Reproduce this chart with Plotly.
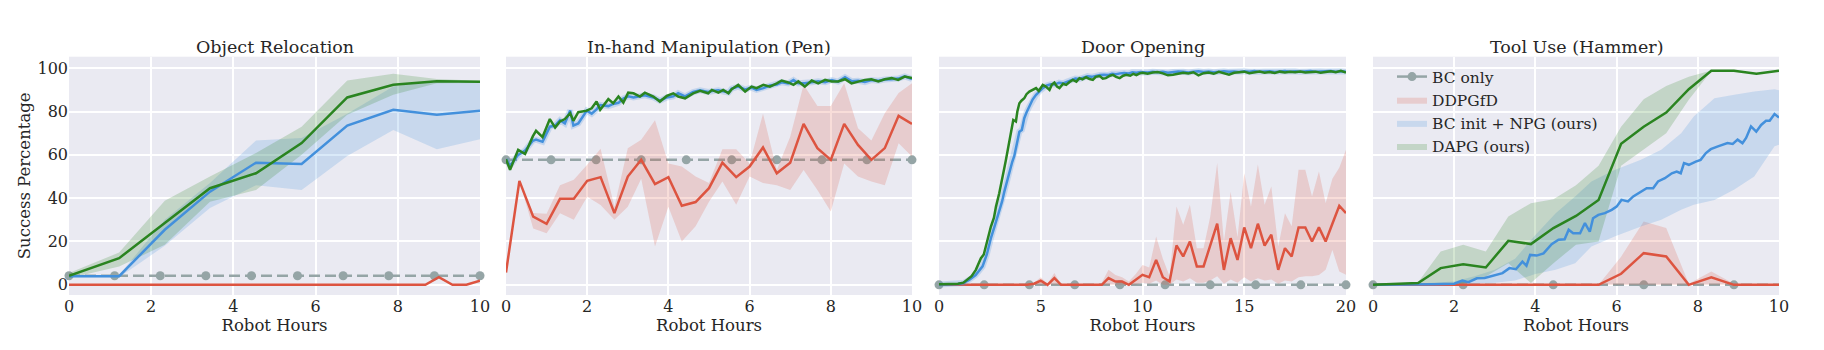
import plotly.graph_objects as go

# ---------------- data ----------------
titles = ["Object Relocation", "In-hand Manipulation (Pen)", "Door Opening", "Tool Use (Hammer)"]
legend_names = ["BC only", "DDPGfD", "BC init + NPG (ours)", "DAPG (ours)"]
y_ticks = [0, 20, 40, 60, 80, 100]

# Object Relocation
reloc_x = [0, 1.22, 2.33, 3.43, 4.55, 5.66, 6.77, 7.89, 8.95, 10]
reloc_dapg = [4.2, 12.3, 28.5, 44.6, 51.5, 65.4, 86.5, 92.3, 94.0, 93.7]
reloc_dapg_hi = [5.5, 14.9, 38.8, 50.0, 60.8, 73.0, 94.3, 97.4, 95.0, 94.2]
reloc_dapg_lo = [3.0, 8.4, 18.5, 38.4, 43.8, 60.0, 78.5, 87.7, 93.0, 93.2]
reloc_npg = [4.0, 4.0, 25.4, 43.0, 56.4, 55.8, 73.5, 80.8, 78.5, 80.4]
reloc_npg_hi = [4.5, 4.5, 30.0, 47.0, 66.6, 67.8, 79.0, 91.5, 94.6, 94.0]
reloc_npg_lo = [3.5, 3.5, 18.0, 35.5, 46.0, 43.8, 59.5, 71.5, 62.6, 67.2]
reloc_ddpg_x = [0, 1, 2, 3, 4, 5, 6, 7, 8, 8.67, 9.0, 9.33, 9.67, 10]
reloc_ddpg = [0, 0, 0, 0, 0, 0, 0, 0, 0, 0, 3.5, 0, 0, 1.9]
reloc_bc_x = [0, 1.11, 2.22, 3.33, 4.44, 5.56, 6.67, 7.78, 8.89, 10]
reloc_bc = [4.2, 4.2, 4.2, 4.2, 4.2, 4.2, 4.2, 4.2, 4.2, 4.2]

# Pen
pen_ddpg_x = [0, 0.33, 0.67, 1.0, 1.33, 1.67, 2.0, 2.33, 2.67, 3.0, 3.33, 3.67, 4.0, 4.33, 4.67,
              5.0, 5.33, 5.67, 6.0, 6.33, 6.67, 7.0, 7.33, 7.67, 8.0, 8.33, 8.67, 9.0, 9.33, 9.67, 10.0]
pen_ddpg = [5.7, 48.0, 31.5, 28.2, 39.7, 39.7, 48.0, 49.7, 33.1, 50.0, 57.7, 46.5, 49.7, 36.5, 38.2,
            44.6, 56.4, 49.7, 54.6, 63.4, 51.5, 56.4, 74.3, 63.1, 57.7, 74.3, 64.6, 57.7, 63.1, 78.0, 74.3]
pen_ddpg_hi = [5.7, 48.0, 33.1, 32.8, 46.0, 48.5, 55.4, 62.8, 36.0, 63.0, 67.0, 76.0, 56.0, 54.6, 50.0,
               47.0, 62.6, 62.6, 56.0, 79.0, 53.0, 68.4, 92.3, 82.6, 82.6, 93.0, 72.3, 66.6, 79.2, 88.5, 93.0]
pen_ddpg_lo = [5.7, 48.0, 26.0, 23.8, 33.0, 30.0, 40.7, 36.9, 30.0, 36.0, 49.0, 17.7, 36.0, 20.0, 27.0,
               38.4, 47.7, 37.0, 50.0, 47.0, 46.0, 43.8, 53.0, 43.8, 33.8, 56.0, 50.0, 47.7, 46.0, 65.4, 59.2]
pen_x = [0, 0.1, 0.3, 0.47, 0.66, 0.74, 0.9, 1.08, 1.21, 1.33, 1.45, 1.58, 1.66, 1.78, 1.99,
         2.11, 2.23, 2.32, 2.52, 2.64, 2.77, 2.89, 3.01, 3.14, 3.30, 3.42, 3.63, 3.79, 3.96, 4.12,
         4.24, 4.41, 4.61, 4.78, 4.98, 5.07, 5.23, 5.35, 5.48, 5.56, 5.72, 5.89, 6.05, 6.17, 6.34,
         6.50, 6.67, 6.79, 6.95, 7.08, 7.20, 7.36, 7.53, 7.69, 7.86, 8.02, 8.18, 8.35, 8.51, 8.67,
         8.84, 9.0, 9.17, 9.33, 9.50, 9.66, 9.82, 10.0]
pen_dapg = [58.0, 53.1, 62.3, 60.4, 68.5, 71.1, 68.2, 76.5, 72.6, 75.4, 76.5, 79.2, 75.7, 79.7, 80.4,
            81.5, 84.6, 80.8, 85.7, 83.8, 86.9, 84.1, 88.7, 88.4, 86.9, 88.7, 86.9, 84.6, 87.2, 88.4,
            86.9, 86.1, 88.4, 89.6, 88.4, 90.0, 88.7, 90.0, 88.4, 90.3, 92.3, 89.2, 91.5, 90.8, 92.3,
            91.5, 93.0, 94.3, 93.4, 92.3, 93.9, 91.5, 94.3, 93.0, 94.6, 93.9, 93.9, 94.9, 93.0, 93.9,
            94.6, 94.9, 93.9, 94.9, 95.4, 94.6, 96.1, 95.4]
pen_npg = [58.0, 55.0, 60.0, 62.0, 66.5, 67.0, 66.0, 73.0, 73.5, 76.0, 74.5, 80.5, 73.5, 74.5, 80.4,
           79.0, 81.0, 83.0, 82.5, 83.5, 84.0, 86.0, 87.0, 86.5, 87.0, 87.5, 86.5, 85.0, 86.5, 87.0,
           88.5, 87.0, 89.0, 89.8, 89.0, 89.5, 89.8, 89.2, 88.8, 90.6, 91.5, 90.2, 91.0, 90.0, 90.8,
           92.0, 92.5, 93.5, 93.0, 94.5, 93.0, 93.0, 93.5, 94.0, 93.5, 94.5, 93.8, 95.8, 94.0, 94.2,
           93.6, 94.5, 94.2, 94.8, 94.9, 95.2, 96.2, 95.0]
pen_bc_x = [0, 1.11, 2.22, 3.33, 4.44, 5.56, 6.67, 7.78, 8.89, 10]
pen_bc = [57.7, 57.7, 57.7, 57.7, 57.7, 57.7, 57.7, 57.7, 57.7, 57.7]

# Door
door_dapg_x = [0, 0.5, 0.93, 1.2, 1.4, 1.6, 1.81, 2.06, 2.2, 2.3, 2.45, 2.55, 2.7, 2.8, 2.96,
               3.05, 3.13, 3.2, 3.29, 3.38, 3.46, 3.55, 3.65, 3.78, 3.85, 3.95, 4.05, 4.19, 4.3, 4.44,
               4.6, 4.77, 4.9, 5.1, 5.25, 5.43, 5.55, 5.67, 5.8, 5.92, 6.1, 6.25, 6.4, 6.57, 6.75,
               6.9, 7.05, 7.23, 7.4, 7.56, 7.7, 7.9, 8.05, 8.2, 8.4, 8.55, 8.7, 8.88, 9.05, 9.2,
               9.4, 9.55, 9.7, 9.88,
               10.0, 10.25, 10.5, 10.75, 11.0, 11.25, 11.5, 11.75, 12.0, 12.25, 12.5, 12.75, 13.0,
               13.25, 13.5, 13.75, 14.0, 14.25, 14.5, 14.75, 15.0, 15.25, 15.5, 15.75, 16.0, 16.25,
               16.5, 16.75, 17.0, 17.25, 17.5, 17.75, 18.0, 18.25, 18.5, 18.75, 19.0, 19.25, 19.5,
               19.75, 20.0]
door_dapg = [0.3, 0.3, 0.5, 1.0, 2.3, 4.0, 6.9, 12.3, 14.0, 17.7, 22.0, 26.9, 31.0, 36.1, 42.3,
             46.0, 50.0, 53.5, 57.7, 62.0, 65.4, 71.0, 76.1, 75.4, 80.0, 83.8, 85.0, 86.1, 88.0, 89.2,
             90.0, 90.8, 89.5, 92.3, 91.5, 90.0, 92.5, 93.4, 91.5, 90.8, 92.8, 92.3, 93.5, 94.6, 93.8,
             95.4, 94.8, 95.8, 95.0, 94.6, 96.0, 96.4, 95.2, 95.4, 96.5, 96.9, 96.0, 95.4, 96.5, 96.9,
             96.5, 97.4, 96.8, 97.7,
             97.9, 97.4, 98.0, 98.2, 97.6, 96.7, 97.0, 97.5, 97.9, 97.6, 98.1, 96.7, 97.7,
             98.0, 97.4, 98.3, 97.8, 97.0, 97.9, 98.1, 98.4, 97.7, 98.0, 98.5, 97.9, 98.2,
             97.8, 98.4, 98.0, 98.3, 98.1, 98.5, 98.0, 98.2, 98.4, 97.9, 98.3, 98.6, 98.1,
             98.8, 98.0]
door_npg_x = [0, 0.5, 0.93, 1.2, 1.48, 1.8, 2.14, 2.35, 2.55, 2.75, 2.96, 3.1, 3.21, 3.35, 3.46,
              3.6, 3.7, 3.82, 3.95, 4.07, 4.19, 4.3, 4.44, 4.6, 4.77, 4.95, 5.1, 5.3, 5.5, 5.7,
              5.9, 6.1, 6.3, 6.5, 6.7, 6.9, 7.1, 7.3, 7.5, 7.7, 7.9, 8.1, 8.3, 8.5, 8.7,
              8.9, 9.1, 9.3, 9.5, 9.7, 9.9,
              10.25, 10.5, 10.75, 11.0, 11.25, 11.5, 11.75, 12.0, 12.25, 12.5, 12.75, 13.0,
              13.25, 13.5, 13.75, 14.0, 14.25, 14.5, 14.75, 15.0, 15.25, 15.5, 15.75, 16.0, 16.25,
              16.5, 16.75, 17.0, 17.25, 17.5, 17.75, 18.0, 18.25, 18.5, 18.75, 19.0, 19.25, 19.5,
              19.75, 20.0]
door_npg = [0.2, 0.3, 0.4, 0.8, 2.3, 4.5, 8.5, 14.0, 21.5, 27.5, 33.8, 38.5, 43.0, 48.0, 52.3,
            56.8, 59.5, 65.5, 70.7, 71.5, 76.9, 79.5, 82.3, 85.5, 87.7, 89.5, 90.8, 92.0, 92.6, 92.5,
            93.3, 93.0, 93.8, 94.5, 95.2, 95.0, 95.8, 96.3, 96.0, 96.6, 96.9, 97.0, 96.8, 97.4, 97.2,
            97.6, 97.8, 97.5, 98.1, 97.9, 98.2,
            98.0, 98.3, 98.1, 98.4, 97.9, 98.2, 98.5, 98.3, 98.0, 98.4, 98.6, 98.2,
            98.5, 98.1, 98.4, 98.6, 98.3, 98.5, 98.2, 98.6, 98.4, 98.7, 98.3, 98.5, 98.6,
            98.2, 98.5, 98.7, 98.4, 98.6, 98.3, 98.5, 98.7, 98.4, 98.6, 98.5, 98.7, 98.4,
            98.6, 98.3]
door_ddpg_x = [0, 0.33, 0.67, 1.0, 1.33, 1.67, 2.0, 2.33, 2.67, 3.0, 3.33, 3.67, 4.0, 4.33, 4.67,
               5.0, 5.33, 5.67, 6.0, 6.33, 6.67, 7.0, 7.33, 7.67, 8.0, 8.33, 8.67, 9.0, 9.33, 9.67,
               10.0, 10.33, 10.67, 11.0, 11.33, 11.67, 12.0, 12.33, 12.67, 13.0, 13.33, 13.67, 14.0,
               14.33, 14.67, 15.0, 15.33, 15.67, 16.0, 16.33, 16.67, 17.0, 17.33, 17.67, 18.0, 18.33,
               18.67, 19.0, 19.33, 19.67, 20.0]
door_ddpg = [0, 0, 0, 0, 0, 0, 0, 0, 0, 0, 0, 0, 0, 0, 0.5,
             1.9, 0, 3.1, 0, 0, 0, 0, 0, 0, 0, 3.1, 1.5, 1.5, 0, 2.3,
             4.6, 3.5, 11.5, 3.5, 1.5, 18.2, 13.1, 20.0, 8.5, 8.5, 18.5, 28.2, 6.9,
             21.5, 11.5, 26.5, 16.9, 28.2, 18.1, 23.1, 6.9, 16.9, 13.1, 26.5, 26.5, 20.0,
             26.5, 20.0, 28.2, 36.5, 33.1]
door_ddpg_hi = [0, 0, 0, 0, 0, 0, 0, 0, 0, 0, 0, 0, 0, 0, 1.0,
                3.5, 0.5, 5.5, 0, 0, 0, 0, 0, 0, 1.0, 6.9, 4.5, 3.5, 1.5, 5.0,
                9.2, 8.0, 22.3, 12.0, 4.0, 36.1, 27.7, 37.0, 16.9, 16.9, 31.5, 56.2, 20.0,
                43.0, 22.0, 51.5, 36.0, 55.5, 37.0, 45.4, 17.7, 33.0, 27.0, 53.1, 53.1, 40.8,
                52.3, 37.7, 49.0, 54.0, 62.3]
door_ddpg_lo = [0, 0, 0, 0, 0, 0, 0, 0, 0, 0, 0, 0, 0, 0, 0,
                0, 0, 0, 0, 0, 0, 0, 0, 0, 0, 0, 0, 0, 0, 0,
                1.0, 0.5, 2.0, 0, 0, 2.5, 1.5, 3.0, 1.0, 1.0, 2.0, 4.0, 0.5,
                2.5, 1.0, 3.5, 1.5, 3.0, 2.0, 2.5, 0.5, 2.0, 1.5, 3.5, 4.0, 4.0,
                4.5, 6.9, 16.1, 6.2, 4.6]
door_bc_x = [0, 2.22, 4.44, 6.67, 8.89, 11.11, 13.33, 15.56, 17.78, 20]
door_bc = [0, 0, 0, 0, 0, 0, 0, 0, 0, 0]

# Hammer
ham_x = [0, 0.556, 1.111, 1.667, 2.222, 2.778, 3.333, 3.889, 4.444, 5.0, 5.556, 6.111, 6.667,
         7.222, 7.778, 8.333, 8.889, 9.444, 10.0]
ham_dapg = [0, 0.4, 0.8, 7.7, 9.5, 8.0, 20.3, 18.8, 26.2, 31.8, 39.2, 65.1, 73.0, 79.5, 90.3,
            98.8, 98.8, 97.4, 98.8]
ham_dapg_hi = [0.3, 0.6, 1.2, 15.4, 18.5, 15.4, 31.5, 37.7, 39.5, 46.0, 55.0, 73.0, 85.7, 91.8,
               96.1, 98.9, 98.9, 97.6, 98.9]
ham_dapg_lo = [0, 0.2, 0.4, 0.5, 0.5, 3.8, 10.0, 0.8, 10.0, 18.5, 20.0, 55.0, 62.3, 70.0, 85.4,
               98.7, 98.7, 97.2, 98.7]
ham_ddpg = [0, 0, 0, 0, 0, 0, 0, 0, 0, 0, 0, 5.1, 14.6, 13.1, 0, 3.5, 0, 0, 0]
ham_ddpg_hi = [0, 0, 0, 0, 0, 0, 0, 0, 0, 0, 0, 13.0, 29.2, 26.2, 0.5, 6.2, 0.5, 0, 0]
ham_ddpg_lo = [0, 0, 0, 0, 0, 0, 0, 0, 0, 0, 0, 0, 0, 0, 0, 0, 0, 0, 0]
ham_npg_x = [0, 0.5, 1.0, 1.5, 2.0, 2.2, 2.35, 2.56, 2.75, 3.0, 3.19, 3.36, 3.52, 3.68, 3.78,
             3.87, 4.03, 4.2, 4.4, 4.57, 4.72, 4.82, 4.93, 5.1, 5.22, 5.34, 5.42, 5.55, 5.71, 5.88,
             6.0, 6.12, 6.28, 6.41, 6.62, 6.74, 6.9, 7.02, 7.19, 7.36, 7.48, 7.58, 7.66, 7.78, 7.95,
             8.07, 8.2, 8.32, 8.48, 8.6, 8.73, 8.86, 8.98, 9.1, 9.19, 9.31, 9.44, 9.56, 9.68, 9.77,
             9.89, 10.0]
ham_npg = [0, 0, 0.2, 0.3, 0.5, 2.0, 1.2, 3.0, 3.2, 4.6, 5.4, 7.7, 7.2, 10.7, 8.8,
           13.8, 13.5, 14.5, 18.8, 20.8, 21.0, 25.4, 23.8, 23.8, 28.5, 24.5, 30.7, 32.3, 33.1, 34.6,
           36.1, 39.2, 38.5, 40.8, 43.1, 44.6, 44.6, 47.7, 49.2, 51.5, 52.3, 51.5, 56.2, 55.4, 56.9,
           57.7, 60.8, 62.6, 63.8, 64.6, 65.4, 65.0, 67.0, 65.4, 67.8, 73.1, 70.7, 73.8, 75.7, 75.7,
           78.8, 77.2]
ham_npg_band_x = [0, 1.0, 2.0, 2.5, 3.0, 3.5, 4.0, 4.5, 4.98, 5.38, 5.95, 6.6, 7.1, 7.59, 7.9,
                  8.41, 8.9, 9.39, 9.89, 10.0]
ham_npg_hi = [0.3, 0.5, 1.5, 4.0, 7.0, 12.0, 23.0, 33.0, 40.8, 47.7, 53.0, 57.7, 62.3, 70.0, 77.7,
              86.1, 87.7, 89.2, 90.3, 89.8]
ham_npg_lo = [0, 0, 0, 0.5, 1.0, 2.0, 5.0, 7.0, 10.0, 17.7, 22.3, 26.9, 30.0, 34.6, 37.0,
              39.2, 44.0, 50.0, 64.0, 64.6]
ham_bc_x = [0, 2.22, 4.44, 6.67, 8.89]
ham_bc = [0, 0, 0, 0, 0]
ham_bc_end_x = [0, 10]
ham_bc_end = [0, 0]

# ---------------- style ----------------
C_GREEN = "#2a8420"
C_BLUE = "#4390dc"
C_RED = "#dd5440"
C_GRAY = "#95a5a6"
F_GREEN = "rgba(42,132,32,0.2)"
F_BLUE = "rgba(67,144,220,0.2)"
F_RED = "rgba(221,84,64,0.2)"
FONT = "DejaVu Serif"
TXT = "#262626"

fig = go.Figure()


def band(x, hi, lo, fill, ax, name=None, legend=False):
    fig.add_trace(go.Scatter(
        x=list(x) + list(x)[::-1], y=list(hi) + list(lo)[::-1],
        fill="toself", fillcolor=fill, mode="lines", line=dict(width=0, color=fill),
        hoverinfo="skip", showlegend=legend, name=name,
        xaxis="x" + ax, yaxis="y" + ax))


def line(x, y, color, ax, width=2.5, halo=False):
    if halo:
        fig.add_trace(go.Scatter(x=x, y=y, mode="lines", line=dict(color=color, width=6),
                                 opacity=0.22, showlegend=False, hoverinfo="skip",
                                 xaxis="x" + ax, yaxis="y" + ax))
    fig.add_trace(go.Scatter(x=x, y=y, mode="lines", line=dict(color=color, width=width),
                             showlegend=False, xaxis="x" + ax, yaxis="y" + ax))


def bc(x, y, ax, end_x=None, end_y=None):
    lx, ly = (end_x, end_y) if end_x is not None else (x, y)
    fig.add_trace(go.Scatter(x=lx, y=ly, mode="lines",
                             line=dict(color=C_GRAY, width=2.5, dash="11px,5px"),
                             showlegend=False, xaxis="x" + ax, yaxis="y" + ax))
    fig.add_trace(go.Scatter(x=x, y=y, mode="markers", marker=dict(color=C_GRAY, size=9),
                             cliponaxis=False, showlegend=False, xaxis="x" + ax, yaxis="y" + ax))


# subplot 1
bc(reloc_bc_x, reloc_bc, "")
band(reloc_x, reloc_npg_hi, reloc_npg_lo, F_BLUE, "")
band(reloc_x, reloc_dapg_hi, reloc_dapg_lo, F_GREEN, "")
line(reloc_ddpg_x, reloc_ddpg, C_RED, "")
line(reloc_x, reloc_npg, C_BLUE, "")
line(reloc_x, reloc_dapg, C_GREEN, "")

# subplot 2
bc(pen_bc_x, pen_bc, "2")
band(pen_ddpg_x, pen_ddpg_hi, pen_ddpg_lo, F_RED, "2")
line(pen_ddpg_x, pen_ddpg, C_RED, "2")
line(pen_x, pen_npg, C_BLUE, "2", halo=True)
line(pen_x, pen_dapg, C_GREEN, "2")

# subplot 3
bc(door_bc_x, door_bc, "3")
band(door_ddpg_x, door_ddpg_hi, door_ddpg_lo, F_RED, "3")
line(door_ddpg_x, door_ddpg, C_RED, "3")
line(door_npg_x, door_npg, C_BLUE, "3", halo=True)
line(door_dapg_x, door_dapg, C_GREEN, "3")

# subplot 4
bc(ham_bc_x, ham_bc, "4", ham_bc_end_x, ham_bc_end)
band(ham_x, ham_ddpg_hi, ham_ddpg_lo, F_RED, "4")
band(ham_npg_band_x, ham_npg_hi, ham_npg_lo, F_BLUE, "4")
band(ham_x, ham_dapg_hi, ham_dapg_lo, F_GREEN, "4")
line(ham_x, ham_ddpg, C_RED, "4")
line(ham_npg_x, ham_npg, C_BLUE, "4")
line(ham_x, ham_dapg, C_GREEN, "4")

# legend entries
fig.add_trace(go.Scatter(x=[None], y=[None], mode="lines+markers", name=legend_names[0],
                         line=dict(color=C_GRAY, width=2.5), marker=dict(color=C_GRAY, size=9),
                         xaxis="x4", yaxis="y4"))
for nm, fc in zip(legend_names[1:], [F_RED, F_BLUE, F_GREEN]):
    fig.add_trace(go.Scatter(x=[None, None], y=[None, None], fill="toself", fillcolor=fc,
                             mode="lines", line=dict(width=0, color=fc), name=nm,
                             xaxis="x4", yaxis="y4"))

W = 1824.0
H = 350.0
x_dom = [(69, 480), (506, 912), (939, 1346), (1373, 1779)]
y_dom = [1 - 295 / H, 1 - 56.7 / H]
x_ranges = [[0, 10], [0, 10], [0, 20], [0, 10]]
x_tickvals = [[0, 2, 4, 6, 8, 10], [0, 2, 4, 6, 8, 10], [0, 5, 10, 15, 20], [0, 2, 4, 6, 8, 10]]

TICK = 16
LAB = 16.5
LEG = 15.5
TTL = 17.5

layout = dict(
    width=1824, height=350, margin=dict(l=0, r=0, t=0, b=0),
    paper_bgcolor="white", plot_bgcolor="#EAEAF2",
    font=dict(family=FONT, color=TXT, size=TICK),
    showlegend=True,
    legend=dict(x=1392 / W, y=1 - 60 / H, xanchor="left", yanchor="top",
                bgcolor="rgba(0,0,0,0)", font=dict(size=LEG, family=FONT, color=TXT),
                tracegroupgap=0, itemwidth=30),
    annotations=[],
)
for i in range(4):
    sfx = "" if i == 0 else str(i + 1)
    layout["xaxis" + sfx] = dict(
        domain=[x_dom[i][0] / W, x_dom[i][1] / W], range=x_ranges[i],
        anchor="y" + sfx, tickvals=x_tickvals[i], showgrid=True, gridcolor="white",
        gridwidth=1.5, zeroline=False, showline=False, ticks="", automargin=False,
        tickfont=dict(size=TICK, family=FONT, color=TXT),
        title=dict(text="Robot Hours", font=dict(size=LAB, family=FONT, color=TXT), standoff=0))
    layout["yaxis" + sfx] = dict(
        domain=y_dom, range=[-4.7, 105.3], anchor="x" + sfx, tickvals=y_ticks,
        showgrid=True, gridcolor="white", gridwidth=1.5, zeroline=False, showline=False,
        ticks="", automargin=False, showticklabels=(i == 0),
        tickfont=dict(size=TICK, family=FONT, color=TXT))
    layout["annotations"].append(dict(
        text=titles[i], x=(x_dom[i][0] + x_dom[i][1]) / 2 / W, y=1 - 47 / H,
        xref="paper", yref="paper", xanchor="center", yanchor="middle", showarrow=False,
        font=dict(size=TTL, family=FONT, color=TXT)))
layout["yaxis"]["title"] = dict(text="Success Percentage", font=dict(size=LAB, family=FONT, color=TXT),
                                standoff=2)

fig.update_layout(**layout)
fig.write_html("out.html")
